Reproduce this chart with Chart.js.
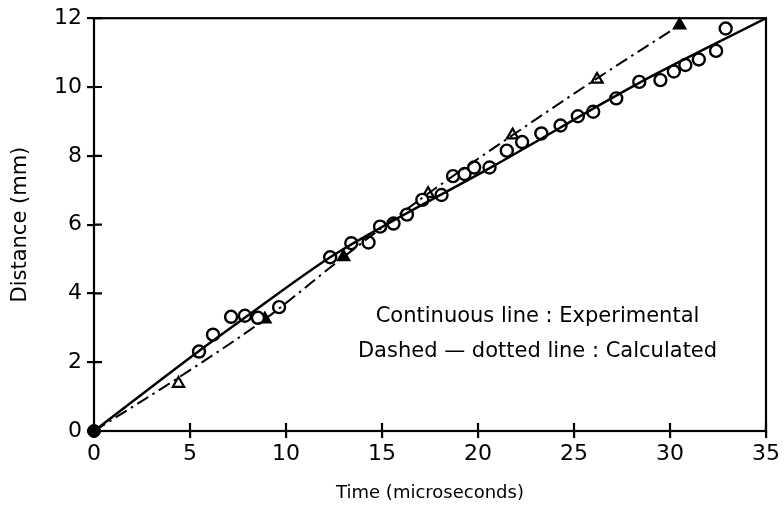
<!DOCTYPE html>
<html lang="en">
<head>
  <meta charset="UTF-8">
  <title>Distance vs Time</title>
  <script src="https://cdn.jsdelivr.net/npm/chart.js@4.4.0/dist/chart.umd.min.js"></script>
  <style>
  body {
    margin: 0;
    padding: 0;
    background: #fff;
  }
  .chart-container {
    position: relative;
    width: 784px;
    height: 514px;
  }
  </style>
</head>
<body>
<div class="chart-container">
  <canvas id="distGraph"></canvas>
</div>

<script>
  // measured points (circles)
  var expTime = [5.47, 6.2, 7.14, 7.86, 8.54, 9.64, 12.3, 13.4, 14.3, 14.9, 15.6, 16.3, 17.1, 18.1, 18.7, 19.3,
                 19.8, 20.6, 21.5, 22.3, 23.3, 24.3, 25.2, 26.0, 27.2, 28.4, 29.5, 30.2, 30.8, 31.5, 32.4, 32.9];
  var expDist = [2.31, 2.8, 3.32, 3.35, 3.29, 3.6, 5.05, 5.46, 5.48, 5.94, 6.03, 6.29, 6.72, 6.86, 7.41, 7.47,
                 7.66, 7.66, 8.15, 8.4, 8.65, 8.88, 9.15, 9.28, 9.67, 10.15, 10.2, 10.45, 10.64, 10.8, 11.05, 11.7];

  // experimental curve (continuous line)
  var expLineTime = [0, 5.4, 8, 12.3, 15, 20.7, 28.4, 35];
  var expLineDist = [0, 2.3, 3.35, 5.05, 5.93, 7.67, 10.12, 12];

  // calculated points (triangles)
  var calcTime = [4.4, 8.9, 13.0, 17.4, 21.8, 26.2, 30.5];
  var calcDist = [1.38, 3.25, 5.06, 6.9, 8.6, 10.22, 11.8];
  var calcFilled = [false, true, true, false, false, false, true];

  // calculated curve (dash-dot line)
  var calcLineTime = [0, 4.4, 8.9, 13.0, 17.4, 21.8, 26.2, 30.5];
  var calcLineDist = [0, 1.55, 3.25, 5.06, 6.9, 8.6, 10.25, 11.8];

  var xTicks = [0, 5, 10, 15, 20, 25, 30, 35];
  var yTicks = [0, 2, 4, 6, 8, 10, 12];

  var noteLines = ['Continuous line : Experimental', 'Dashed \u2014 dotted line : Calculated'];

  var FONT = '"DejaVu Sans", sans-serif';

  function pts(xs, ys) {
    return xs.map(function(x, i) { return {x: x, y: ys[i]}; });
  }

  // frame, inner tick halves and the note text
  var framePlugin = {
    id: 'frame',
    afterDraw: function(chart) {
      var ctx = chart.ctx;
      var a = chart.chartArea;
      var xs = chart.scales.x, ys = chart.scales.y;
      ctx.save();
      ctx.strokeStyle = '#000';
      ctx.lineWidth = 2.2;
      ctx.strokeRect(a.left, a.top, a.right - a.left, a.bottom - a.top);
      ctx.beginPath();
      xTicks.forEach(function(v) {
        var px = xs.getPixelForValue(v);
        ctx.moveTo(px, a.bottom);
        ctx.lineTo(px, a.bottom - 8);
      });
      yTicks.forEach(function(v) {
        var py = ys.getPixelForValue(v);
        ctx.moveTo(a.left, py);
        ctx.lineTo(a.left + 8, py);
      });
      ctx.stroke();

      ctx.fillStyle = '#000';
      ctx.font = '21px ' + FONT;
      ctx.textAlign = 'center';
      ctx.textBaseline = 'middle';
      var cx = xs.getPixelForValue(23.1);
      ctx.fillText(noteLines[0], cx, ys.getPixelForValue(3.32));
      ctx.fillText(noteLines[1], cx, ys.getPixelForValue(2.3));
      ctx.restore();
    }
  };

  var datasets = [{
    label: 'Experimental line',
    data: pts(expLineTime, expLineDist),
    showLine: true,
    borderColor: '#000',
    borderWidth: 2.5,
    pointRadius: 0,
    tension: 0.4,
    cubicInterpolationMode: 'monotone'
  },
  {
    label: 'Calculated line',
    data: pts(calcLineTime, calcLineDist),
    showLine: true,
    borderColor: '#000',
    borderWidth: 2,
    borderDash: [13, 5, 2.5, 5],
    pointRadius: 0,
    tension: 0.4,
    cubicInterpolationMode: 'monotone'
  },
  {
    label: 'Experimental',
    data: pts(expTime, expDist),
    showLine: false,
    pointStyle: 'circle',
    pointRadius: 6,
    pointBorderWidth: 2.4,
    pointBorderColor: '#000',
    pointBackgroundColor: '#fff'
  },
  {
    label: 'Calculated',
    data: pts(calcTime, calcDist),
    showLine: false,
    clip: false,
    pointStyle: 'triangle',
    pointRadius: 6.5,
    pointBorderWidth: 2.2,
    pointBorderColor: '#000',
    pointBackgroundColor: calcFilled.map(function(f) { return f ? '#000' : '#fff'; })
  },
  {
    label: 'Origin',
    data: [{x: 0, y: 0}],
    showLine: false,
    clip: false,
    pointRadius: 6.5,
    pointBorderColor: '#000',
    pointBackgroundColor: '#000'
  }];

  var options = {
    responsive: false,
    animation: false,
    layout: {
      padding: {left: 0, right: 18, top: 11, bottom: 10}
    },
    plugins: {
      legend: {display: false},
      tooltip: {enabled: false}
    },
    scales: {
      x: {
        type: 'linear',
        min: 0,
        max: 35,
        afterBuildTicks: function(scale) {
          scale.ticks = xTicks.map(function(v) { return {value: v}; });
        },
        afterFit: function(scale) { scale.height = 73; },
        grid: {
          drawOnChartArea: false,
          color: '#000',
          lineWidth: 2.2,
          tickLength: 7
        },
        border: {display: false},
        ticks: {
          color: '#000',
          padding: 3,
          font: {family: FONT, size: 22}
        },
        title: {
          display: true,
          text: 'Time (microseconds)',
          color: '#000',
          padding: {top: 8, bottom: 0},
          font: {family: FONT, size: 18}
        }
      },
      y: {
        type: 'linear',
        min: 0,
        max: 12,
        afterBuildTicks: function(scale) {
          scale.ticks = yTicks.map(function(v) { return {value: v}; });
        },
        afterFit: function(scale) { scale.width = 94; },
        grid: {
          drawOnChartArea: false,
          color: '#000',
          lineWidth: 2.2,
          tickLength: 7
        },
        border: {display: false},
        ticks: {
          color: '#000',
          padding: 5,
          font: {family: FONT, size: 22}
        },
        title: {
          display: true,
          text: 'Distance (mm)',
          color: '#000',
          padding: {top: 8, bottom: 0},
          font: {family: FONT, size: 21}
        }
      }
    }
  };

  var ctx = document.getElementById('distGraph');
  ctx.width = 784;
  ctx.height = 514;
  var TheGraph = new Chart(ctx, {
    type: 'scatter',
    data: {datasets: datasets},
    options: options,
    plugins: [framePlugin]
  });
</script>
</body>
</html>
